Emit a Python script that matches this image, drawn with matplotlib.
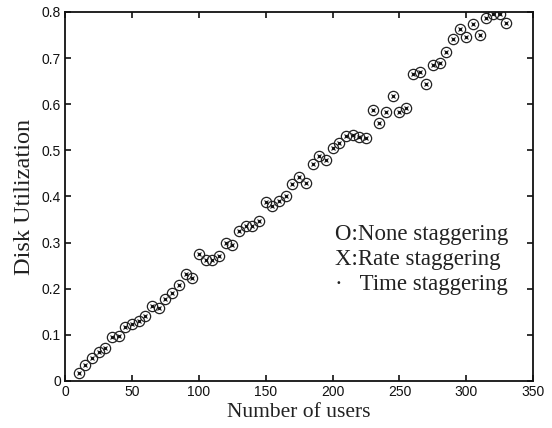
import matplotlib
matplotlib.use("Agg")
import matplotlib.pyplot as plt

# Number of concurrent users
users = list(range(10, 335, 5))

# Disk utilization for each staggering policy (curves coincide)
util_none = [0.018, 0.034, 0.049, 0.063, 0.071, 0.096, 0.098, 0.118, 0.124, 0.129,
             0.141, 0.163, 0.159, 0.177, 0.190, 0.209, 0.231, 0.223, 0.275, 0.262,
             0.262, 0.270, 0.299, 0.294, 0.325, 0.337, 0.335, 0.347, 0.388, 0.380,
             0.390, 0.400, 0.428, 0.443, 0.430, 0.471, 0.488, 0.479, 0.506, 0.516,
             0.531, 0.534, 0.529, 0.526, 0.588, 0.560, 0.583, 0.618, 0.584, 0.592,
             0.666, 0.669, 0.644, 0.684, 0.689, 0.713, 0.741, 0.764, 0.745, 0.774,
             0.751, 0.787, 0.796, 0.795, 0.776]
util_rate = list(util_none)
util_time = list(util_none)

xticks = [0, 50, 100, 150, 200, 250, 300, 350]
yticks = [0, 0.1, 0.2, 0.3, 0.4, 0.5, 0.6, 0.7, 0.8]
ytick_labels = ["0", "0.1", "0.2", "0.3", "0.4", "0.5", "0.6", "0.7", "0.8"]

fig = plt.figure(figsize=(5.52, 4.28), dpi=100)
ax = fig.add_axes([0.118, 0.110, 0.848, 0.862])

ax.plot(users, util_none, linestyle="none", marker="o", markersize=7.4,
        markerfacecolor="none", markeredgecolor="#222222", markeredgewidth=0.9)
ax.plot(users, util_rate, linestyle="none", marker="x", markersize=3.2,
        markeredgecolor="#222222", markeredgewidth=0.8)
ax.plot(users, util_time, linestyle="none", marker=".", markersize=2.5,
        color="#111111")

ax.set_xlim(0, 350)
ax.set_ylim(0, 0.8)
ax.set_xticks(xticks)
ax.set_yticks(yticks)
ax.set_yticklabels(ytick_labels)

sans = ["Liberation Sans", "DejaVu Sans"]
serif = ["Liberation Serif", "DejaVu Serif"]
for lab in ax.get_xticklabels() + ax.get_yticklabels():
    lab.set_fontfamily(sans)
    lab.set_fontsize(10)

ax.tick_params(direction="in", length=4, width=1.2, top=True, right=True,
               pad=3, colors="#111111")
for sp in ax.spines.values():
    sp.set_linewidth(1.3)
    sp.set_color("#111111")

ax.set_xlabel("Number of users", fontfamily=serif, fontsize=15.5, color="#222222",
              labelpad=3)
ax.set_ylabel("Disk Utilization", fontfamily=serif, fontsize=17.5, color="#222222",
              labelpad=5)

legend_lines = ["O:None staggering", "X:Rate staggering", "\u00b7   Time staggering"]
for i, line in enumerate(legend_lines):
    ax.text(0.576, 0.396 - i * 0.068, line, transform=ax.transAxes,
            fontfamily=serif, fontsize=16.5, color="#222222", va="center", ha="left")

fig.savefig("out.png", dpi=100)
